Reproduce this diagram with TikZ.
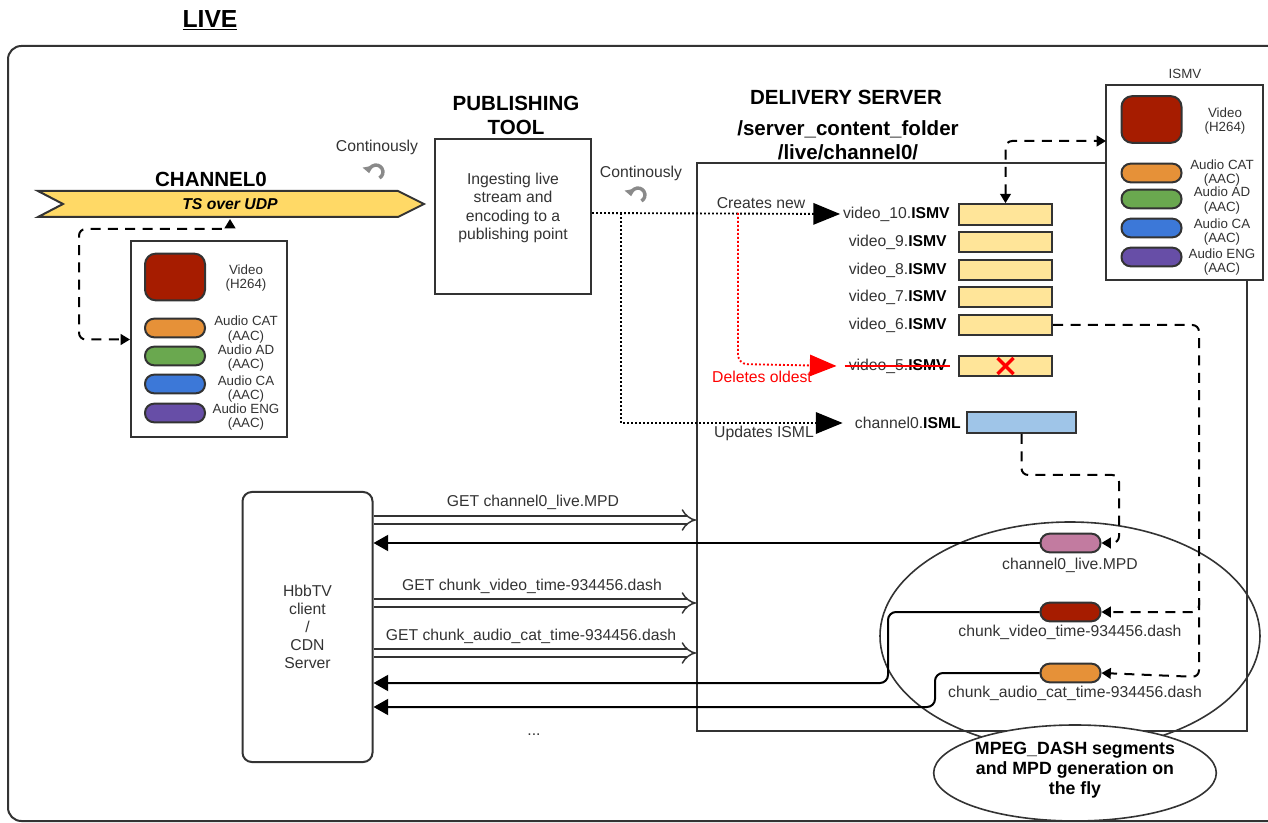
\documentclass[tikz,border=0pt]{standalone}
\usepackage{fontspec}
\setmainfont{Liberation Sans}
\usetikzlibrary{arrows.meta,shapes.geometric,calc}
\definecolor{dk}{HTML}{333333}
\definecolor{bannery}{HTML}{FFD966}
\definecolor{fyel}{HTML}{FFE599}
\definecolor{islb}{HTML}{9FC5E8}
\definecolor{vred}{HTML}{A61C00}
\definecolor{aorange}{HTML}{E69138}
\definecolor{agreen}{HTML}{6AA84F}
\definecolor{ablue}{HTML}{3C78D8}
\definecolor{apurple}{HTML}{674EA7}
\definecolor{apink}{HTML}{C27BA0}
\definecolor{icongray}{HTML}{8A8A8A}
\newcommand\fsmain{\fontsize{11.8}{13.9}\selectfont}
\newcommand\fssmall{\fontsize{10}{11}\selectfont}
\newcommand\fshead{\fontsize{15.4}{18}\selectfont\bfseries}
\newcommand\fslive{\fontsize{18.5}{20}\selectfont\bfseries}
\newcommand\fsmpeg{\fontsize{13.3}{14.8}\selectfont\bfseries}
\tikzset{
  txt/.style={text=dk, font=\fsmain, inner sep=0pt, align=center},
  smalltxt/.style={text=dk, font=\fssmall, inner sep=0pt, align=center},
  headtxt/.style={text=black, font=\fshead, inner sep=0pt, align=center},
  plainbox/.style={draw=dk, line width=1.5pt, fill=white, inner sep=0pt},
  capsule/.style={draw=dk, line width=1.5pt, rounded corners=6.8pt, minimum width=45pt, minimum height=14pt, inner sep=0pt},
  vidbox/.style={draw=dk, line width=1.5pt, rounded corners=8pt, fill=vred, minimum width=45pt, minimum height=35pt, inner sep=0pt},
  filebox/.style={draw=dk, line width=1.5pt, fill=fyel, minimum width=70pt, minimum height=15.5pt, inner sep=0pt},
  dashc/.style={line width=1.5pt, draw=black, dash pattern=on 7.5pt off 5.5pt, rounded corners=5pt},
  dotc/.style={line width=1.4pt, dash pattern=on 1.4pt off 1.6pt},
  bigtip/.style={-{Triangle[length=20pt,width=16pt]}},
  smalltip/.style={-{Triangle[length=7pt,width=8pt]}},
  rettip/.style={line width=1.5pt, draw=black, rounded corners=6pt, -{Triangle[length=11pt,width=12pt]}},
  dblarrow/.style={draw=dk, line width=1.1pt, double=white, double distance=4.6pt, -{Implies[scale=1.3]}},
  icon/.style={draw=icongray, line width=2.6pt, -{Triangle[length=5pt,width=8pt]}},
}
\begin{document}
\begin{tikzpicture}[x=0.75pt,y=-0.75pt]
\useasboundingbox (0,0) rectangle (1268,823);
\begin{scope}
  \clip (0,0) rectangle (1268,823);
  \draw[draw=dk, line width=1.5pt, rounded corners=10pt] (8,46) rectangle (1300,821);
\end{scope}

% title
\node[inner sep=0pt, font=\fslive] (live) at (210,20) {\underline{LIVE}};

% channel banner
\node[headtxt] (chtitle) at (211,179) {CHANNEL0};
\draw[draw=dk, line width=1.5pt, fill=bannery] (38,191) -- (398,191) -- (424,204) -- (398,217) -- (38,217) -- (63,204) -- cycle;
\node[inner sep=0pt, font=\fsmain\bfseries\itshape] (tsudp) at (230,204) {TS over UDP};
\coordinate (bannerB) at (230,219);

% continuously 1
\node[txt] (cont1) at (377,147) {Continously};
\coordinate (ic1) at (376,172);
\draw[icon] ([shift={(2.6pt,-4.5pt)}]ic1) arc (-60:190:5.2pt);

% source box
\node[plainbox, minimum width=117pt, minimum height=147pt] (src) at (209,339.5) {};
\node[vidbox] (srcvid) at (175,277) {};
\node[smalltxt] (srcvidl) at (246,278) {Video\\(H264)};
\node[capsule, fill=aorange] (s1) at (175,328) {};
\node[capsule, fill=agreen] (s2) at (175,356) {};
\node[capsule, fill=ablue] (s3) at (175,384) {};
\node[capsule, fill=apurple] (s4) at (175,413) {};
\node[smalltxt] (s1l) at (246,329.5) {Audio CAT\\(AAC)};
\node[smalltxt] (s2l) at (246,358) {Audio AD\\(AAC)};
\node[smalltxt] (s3l) at (246,389) {Audio CA\\(AAC)};
\node[smalltxt] (s4l) at (246,417) {Audio ENG\\(AAC)};
\draw[dashc, {Triangle[length=7pt,width=8pt]}-{Triangle[length=7pt,width=8pt]}] (bannerB) -- (230,229) -- (79,229) -- (79,339.5) -- (src.west);

% publishing tool
\node[headtxt] (pubtitle) at (516,115) {PUBLISHING\\TOOL};
\node[plainbox, minimum width=117pt, minimum height=116pt] (pub) at (513,216.5) {};
\node[txt] (pubtxt) at (513,208) {Ingesting live\\stream and\\encoding to a\\publishing point};

% continuously 2
\node[txt] (cont2) at (641,173) {Continously};
\coordinate (ic2) at (638,195);
\draw[icon] ([shift={(2.6pt,-4.5pt)}]ic2) arc (-60:190:5.2pt);

% delivery server
\node[headtxt] (dstitle) at (846,97) {DELIVERY SERVER};
\node[headtxt] (dspath) at (848,140) {/server\_content\_folder\\/live/channel0/};
\node[draw=dk, line width=1.5pt, minimum width=412.5pt, minimum height=426pt, inner sep=0pt] (srv) at (972,447) {};

% ISMV detail box
\node[smalltxt] (ismvt) at (1185,74) {ISMV};
\node[plainbox, minimum width=117.75pt, minimum height=146.25pt] (ismv) at (1184.5,182.5) {};
\node[vidbox] (ivid) at (1151.5,119.5) {};
\node[smalltxt] (ividl) at (1225,121) {Video\\(H264)};
\node[capsule, fill=aorange] (i1) at (1151.5,173) {};
\node[capsule, fill=agreen] (i2) at (1151.5,199) {};
\node[capsule, fill=ablue] (i3) at (1151.5,228) {};
\node[capsule, fill=apurple] (i4) at (1151.5,257) {};
\node[smalltxt] (i1l) at (1222,173) {Audio CAT\\(AAC)};
\node[smalltxt] (i2l) at (1222,200.5) {Audio AD\\(AAC)};
\node[smalltxt] (i3l) at (1222,232) {Audio CA\\(AAC)};
\node[smalltxt] (i4l) at (1222,262) {Audio ENG\\(AAC)};
\coordinate (ismvIn) at (1106,141);

% ISMV files
\node[filebox] (f10) at (1005.5,214.5) {};
\node[filebox] (f9) at (1005.5,242) {};
\node[filebox] (f8) at (1005.5,270) {};
\node[filebox] (f7) at (1005.5,297) {};
\node[filebox] (f6) at (1005.5,325) {};
\node[filebox] (f5) at (1005.5,366) {};
\node[txt, anchor=east] (l10) at (950,214) {video\_10.\textbf{\color{black}ISMV}};
\node[txt, anchor=east] (l9) at (947,242) {video\_9.\textbf{\color{black}ISMV}};
\node[txt, anchor=east] (l8) at (947,270) {video\_8.\textbf{\color{black}ISMV}};
\node[txt, anchor=east] (l7) at (947,297) {video\_7.\textbf{\color{black}ISMV}};
\node[txt, anchor=east] (l6) at (947,325) {video\_6.\textbf{\color{black}ISMV}};
\node[txt, anchor=east] (l5) at (947,366) {video\_5.\textbf{\color{black}ISMV}};
\draw[red, line width=1.6pt] ([xshift=-3pt]l5.west) -- ([xshift=2pt]l5.east);
\draw[red, line width=2.6pt] ([shift={(-6pt,-6pt)}]f5.center) -- ([shift={(6pt,6pt)}]f5.center);
\draw[red, line width=2.6pt] ([shift={(-6pt,6pt)}]f5.center) -- ([shift={(6pt,-6pt)}]f5.center);

% ISML
\node[draw=dk, line width=1.5pt, fill=islb, minimum width=81.75pt, minimum height=15.75pt, inner sep=0pt] (isml) at (1021.5,422.5) {};
\node[txt, anchor=east] (lisml) at (961,423) {channel0.\textbf{\color{black}ISML}};

% dotted connectors from the publishing tool
\coordinate (br1) at (621,213);
\coordinate (br2) at (738,213);
\draw[dotc, bigtip] (pub.east |- br1) -- ([xshift=-2pt]l10.west);
\draw[dotc, bigtip] (br1) -- (621,423) -- ([xshift=-9pt]lisml.west);
\draw[dotc, red, rounded corners=7pt, -{Triangle[length=20pt,width=16pt,fill=red]}] (br2) -- (738,364) -- ([xshift=-9pt]l5.west);
\node[txt] (lnew) at (761,203) {Creates new};
\node[txt, text=red] (ldel) at (762,377) {Deletes oldest};
\node[txt] (lupd) at (764,433) {Updates ISML};

% MPEG-DASH region
\node[ellipse, draw=dk, line width=1.2pt, minimum width=285pt, minimum height=171pt, inner sep=0pt] (gen) at (1070,636) {};
\node[capsule, fill=apink] (mpd) at (1070.5,543) {};
\node[capsule, fill=vred] (cv) at (1070.5,612) {};
\node[capsule, fill=aorange] (ca) at (1070.5,673) {};
\node[txt] (mpdl) at (1070,565) {channel0\_live.MPD};
\node[txt] (cvl) at (1070,632) {chunk\_video\_time-934456.dash};
\node[txt] (cal) at (1075,693) {chunk\_audio\_cat\_time-934456.dash};
\node[ellipse, draw=dk, line width=1.2pt, fill=white, minimum width=212pt, minimum height=72pt, inner sep=0pt] (mpeg) at (1075,773) {};
\node[inner sep=0pt, align=center, font=\fsmpeg] (mpegt) at (1075,770) {MPEG\_DASH segments\\and MPD generation on\\the fly};

% dashed connectors inside server
\draw[dashc, {Triangle[length=7pt,width=8pt]}-{Triangle[length=7pt,width=8pt]}] (f10.north) -- (f10.north |- ismvIn) -- (ismvIn);
\draw[dashc, smalltip] (f6.east) -- (1199,325) -- (1199,612) -- (cv.east);
\draw[dashc, smalltip] (1199,600) -- (1199,677) -- (ca.east);
\draw[dashc, smalltip] (isml.south) -- (1021.5,475) -- (1119,475) -- (1119,543) -- (mpd.east);

% HbbTV client
\node[draw=dk, line width=1.5pt, rounded corners=7pt, minimum width=97.5pt, minimum height=202.5pt, inner sep=0pt] (hbb) at (307.5,627) {};
\node[txt, align=center, font=\fontsize{11.8}{13.6}\selectfont] (hbbt) at (307.5,627) {HbbTV\\client\\/\\CDN\\Server};

% requests
\coordinate (g1) at (0,520);
\coordinate (g2) at (0,603);
\coordinate (g3) at (0,653);
\coordinate (r2) at (0,683);
\coordinate (r3) at (0,707);
\draw[dblarrow] (hbb.east |- g1) -- (srv.west |- g1);
\draw[dblarrow] (hbb.east |- g2) -- (srv.west |- g2);
\draw[dblarrow] (hbb.east |- g3) -- (srv.west |- g3);
\node[txt] (get1) at (533,502) {GET channel0\_live.MPD};
\node[txt] (get2) at (532,586) {GET chunk\_video\_time-934456.dash};
\node[txt] (get3) at (531,636) {GET chunk\_audio\_cat\_time-934456.dash};

% responses
\draw[rettip] (mpd.west) -- (hbb.east |- mpd.west);
\draw[rettip] (cv.west) -- (888,612) -- (888,683) -- (hbb.east |- r2);
\draw[rettip] (ca.west) -- (935,673) -- (935,707) -- (hbb.east |- r3);
\node[txt] (dots) at (534,735) {...};
\end{tikzpicture}
\end{document}
